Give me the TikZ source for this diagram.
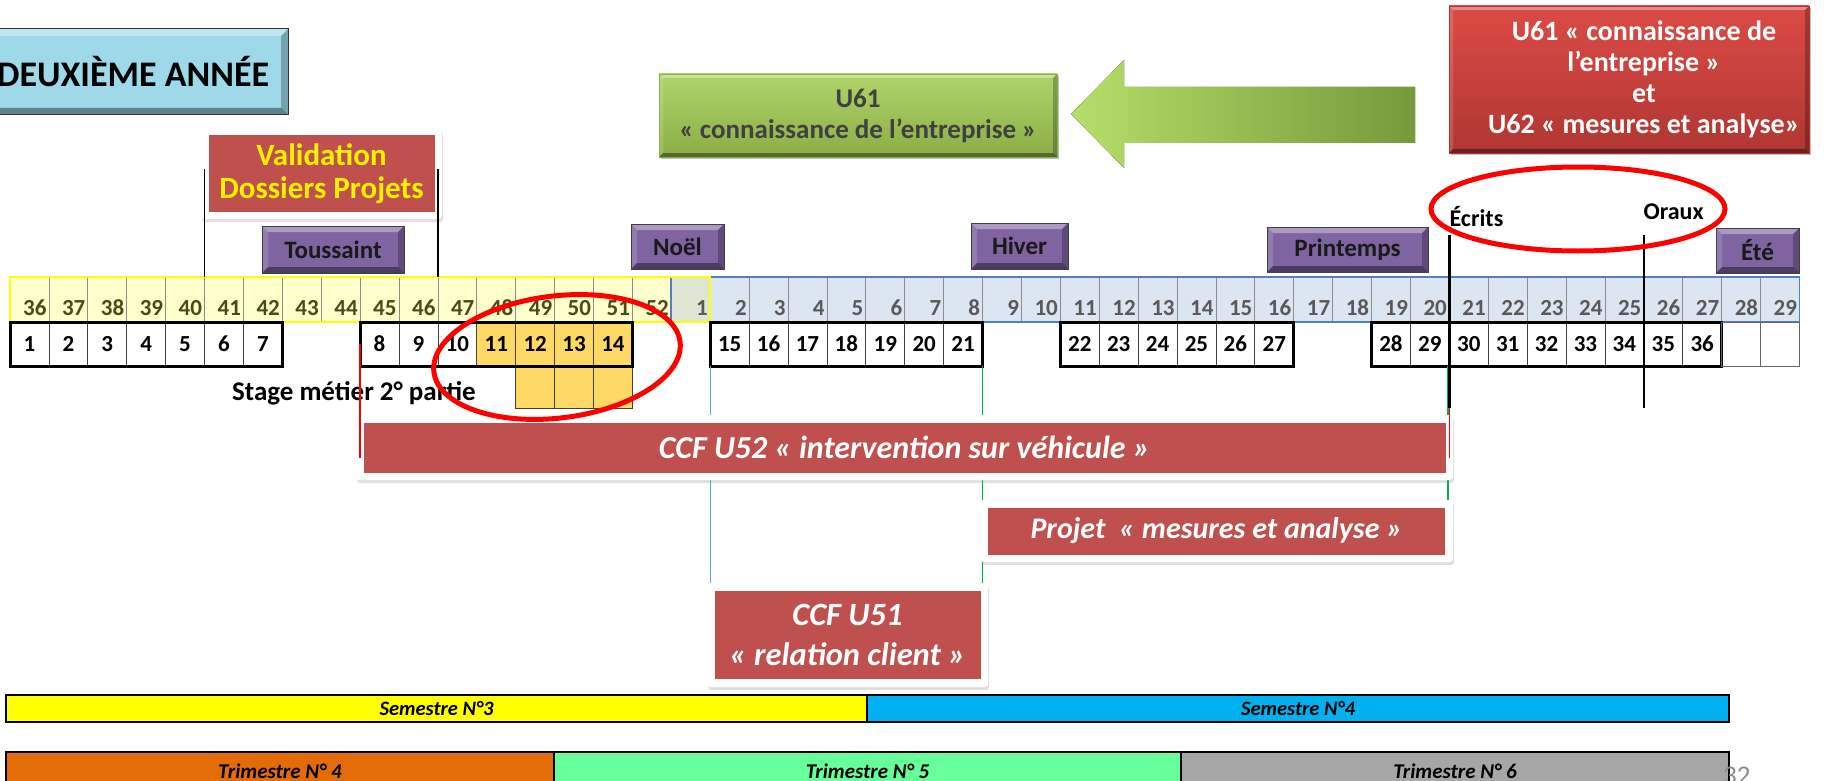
\documentclass[tikz,border=0pt]{standalone}
\usepackage{fontspec}
\setmainfont{Carlito}
\usetikzlibrary{positioning,shadows}

\definecolor{ccfred}{HTML}{C0504D}
\definecolor{vacviolet}{HTML}{8064A2}
\definecolor{titleblue}{HTML}{9DD9E9}
\definecolor{u61light}{HTML}{AFD46A}
\definecolor{u61dark}{HTML}{8AAE45}
\definecolor{u62light}{HTML}{DC4B45}
\definecolor{u62dark}{HTML}{B03632}
\definecolor{arrowlight}{HTML}{B5DF6A}
\definecolor{arrowdark}{HTML}{76993A}
\definecolor{weekyellow}{HTML}{FFFFCC}
\definecolor{weekblue}{HTML}{DCE6F2}
\definecolor{weekgrey}{HTML}{DFE5D3}
\definecolor{olivetxt}{HTML}{4A4A1C}
\definecolor{bordblue}{HTML}{4F81BD}
\definecolor{stageorange}{HTML}{FFD966}
\definecolor{semyellow}{HTML}{FFFF00}
\definecolor{semblue}{HTML}{00B0F0}
\definecolor{trimorange}{HTML}{E36C09}
\definecolor{trimgreen}{HTML}{66FF99}
\definecolor{trimgrey}{HTML}{A6A6A6}
\definecolor{lineblue}{HTML}{4BACC6}
\definecolor{linegreen}{HTML}{00B050}

\newcommand{\taille}[2]{\fontsize{#1}{#2}\selectfont}

\tikzset{
  bevel/.style={path picture={
      \coordinate (bA) at (path picture bounding box.north west);
      \coordinate (bB) at (path picture bounding box.north east);
      \coordinate (bC) at (path picture bounding box.south east);
      \coordinate (bD) at (path picture bounding box.south west);
      \fill[white,opacity=.35] (bA) -- (bB) -- ([shift={(-#1,-#1)}]bB) -- ([shift={(#1,-#1)}]bA) -- cycle;
      \fill[white,opacity=.15] (bA) -- (bD) -- ([shift={(#1,#1)}]bD) -- ([shift={(#1,-#1)}]bA) -- cycle;
      \fill[black,opacity=.25] (bB) -- (bC) -- ([shift={(-#1,#1)}]bC) -- ([shift={(-#1,-#1)}]bB) -- cycle;
      \fill[black,opacity=.4] (bD) -- (bC) -- ([shift={(-#1,#1)}]bC) -- ([shift={(#1,#1)}]bD) -- cycle;}},
  bevel/.default=6pt,
  vacances/.style={bevel, fill=vacviolet, draw=black!75, line width=.8pt, inner sep=0pt,
                   font=\taille{25}{28}\bfseries, text=black!90},
  whiteframe/.style={fill=white, rounded corners=3pt,
                     drop shadow={opacity=.25, shadow xshift=1pt, shadow yshift=-3pt}},
  ccfbox/.style={fill=ccfred, text=white, inner sep=0pt, align=center},
  weekcell/.style={draw=black!45, line width=.8pt, anchor=north west, outer sep=0pt,
                   minimum width=38.9pt, minimum height=45pt, inner xsep=2pt, inner ysep=5pt,
                   text width=34pt, align=right, text height=33pt, text depth=2pt,
                   font=\taille{23}{26}\bfseries},
  numcell/.style={draw=black!75, line width=.8pt, anchor=north west, outer sep=0pt,
                  minimum width=38.9pt, minimum height=44pt, inner sep=0pt,
                  font=\taille{23}{26}\bfseries},
  barcell/.style={draw=black, line width=1.2pt, anchor=north west, outer sep=0pt, inner sep=0pt,
                  font=\bfseries\itshape},
  examline/.style={line width=2.5pt},
  circled/.style={red, line width=5pt}
}

\begin{document}
\begin{tikzpicture}[x=1pt,y=-1pt]
\useasboundingbox (0,0) rectangle (1844,781);

% titre
\node[bevel=7pt, fill=titleblue, draw=black!80, line width=1pt, inner sep=0pt,
      minimum width=310pt, minimum height=86pt, font=\taille{36}{40}\bfseries]
      (titre) at (133,72) {DEUXIÈME ANNÉE};

% U61 / U62
\node[bevel=4pt, top color=u61light, bottom color=u61dark, draw=u61dark, drop shadow,
      minimum width=398pt, minimum height=83pt, inner sep=0pt, align=center,
      text=black!75, font=\taille{27}{31}\bfseries]
      (u61) at (858,115.5) {U61\\« connaissance de l’entreprise »};
\node[bevel=4pt, top color=u62light, bottom color=u62dark, draw=u62dark, drop shadow,
      minimum width=360pt, minimum height=147pt, inner sep=0pt] (u62) at (1629,79.5) {};
\node[align=center, text=white, inner sep=0pt, font=\taille{28}{31}\bfseries]
      (u62txt) at ([xshift=15pt]u62.center) {U61 « connaissance de\\l’entreprise »\\et\\U62 « mesures et analyse»};
\fill[left color=arrowlight, right color=arrowdark]
  (1071,114) -- (1124,60) -- (1124,87) -- (1415,87) -- (1415,143) -- (1124,143) -- (1124,168) -- cycle;

% validation
\node[whiteframe, minimum width=241pt, minimum height=91pt] (fval) at (321.5,173.5) {};
\node[ccfbox, text=yellow, minimum width=226pt, minimum height=76pt,
      font=\taille{31}{33}\bfseries] (val) at (fval) {Validation\\Dossiers Projets};

% vacances
\node[vacances, minimum width=142pt, minimum height=47pt] (toussaint) at (333,249.5) {Toussaint};
\node[vacances, minimum width=93pt, minimum height=45pt] (noel) at (677.5,246.5) {Noël};
\node[vacances, minimum width=97pt, minimum height=46pt] (hiver) at (1019.5,246) {Hiver};
\node[vacances, minimum width=161pt, minimum height=45pt] (printemps) at (1347.5,249.5) {Printemps};
\node[vacances, minimum width=83pt, minimum height=45pt] (ete) at (1757.5,250.5) {Été};

% semaines
\foreach \w in {36,...,52}{
  \pgfmathsetmacro{\xx}{10+38.9*(\w-36)}
  \node[weekcell, fill=weekyellow, text=olivetxt] (wk\w) at (\xx,277) {\w};
}
\foreach \w in {2,...,29}{
  \pgfmathsetmacro{\xx}{10+38.9*(\w+16)}
  \node[weekcell, fill=weekblue, text=black!65] (wk\w) at (\xx,277) {\w};
}
\node[weekcell, fill=weekgrey, text=black!65] (wk1) at (671.3,277) {1};
\draw[bordblue, line width=1.8pt] (wk1.north west) rectangle (wk29.south east);
\draw[semyellow, line width=2pt] (wk36.north west) rectangle (wk1.south east);

% stage
\fill[stageorange] (476.8,322) rectangle (632.4,366);
\foreach \i in {13,14,15}{
  \pgfmathsetmacro{\xx}{10+38.9*\i}
  \node[numcell, fill=stageorange, minimum height=42pt] (st\i) at (\xx,366) {};
}
\node[font=\taille{27}{30}\bfseries] (stage) at (354,393) {Stage métier 2° partie};

% semaines de cours
\foreach \a/\b/\o in {1/7/-1, 8/14/1, 15/21/3, 22/27/5, 28/36/7}{
  \foreach \n in {\a,...,\b}{
    \pgfmathsetmacro{\xx}{10+38.9*(\n+\o)}
    \node[numcell] (n\n) at (\xx,322) {\n};
  }
  \draw[line width=3pt] (n\a.north west) rectangle (n\b.south east);
}
\foreach \i in {44,45}{
  \pgfmathsetmacro{\xx}{10+38.9*\i}
  \node[numcell, draw=black!60] (e\i) at (\xx,322) {};
}

% reperes
\draw[lineblue, line width=1.2pt] (n15.south west) -- ++(0,259);
\draw[linegreen, line width=1.2pt] (n21.south east) -- ++(0,217);
\draw[linegreen, line width=1.5pt] ([xshift=-1.5pt]n30.south west) -- ++(0,134);

% CCF
\node[whiteframe, minimum width=1097pt, minimum height=65pt] (f52) at (904.5,447.5) {};
\node[ccfbox, minimum width=1082pt, minimum height=50pt, font=\taille{32}{36}\bfseries\itshape]
      (ccf52) at (f52) {CCF U52 « intervention sur véhicule »};
\node[whiteframe, minimum width=473pt, minimum height=62pt] (fproj) at (1216.5,531) {};
\node[ccfbox, minimum width=457pt, minimum height=47pt, font=\taille{30}{34}\bfseries\itshape]
      (proj) at (fproj) {Projet ~« mesures et analyse »};
\node[whiteframe, minimum width=281pt, minimum height=104pt] (f51) at (847.5,635) {};
\node[ccfbox, minimum width=266pt, minimum height=88pt, font=\taille{32.5}{40}\bfseries\itshape]
      (ccf51) at (f51) {CCF U51\\« relation client »};

\draw[red, line width=1.5pt] (n8.west) -- ++(0,114);
\draw[red, line width=1.5pt] (n30.south west) -- ++(0,92);

% validation et examens
\draw[line width=1.5pt] (wk41.north west) -- ++(0,-108);
\draw[line width=1.5pt] (wk47.north west) -- ++(0,-108);
\node[anchor=west, font=\taille{24}{28}\bfseries] (ecrits) at (1446,217) {Écrits};
\node[anchor=west, font=\taille{24}{28}\bfseries] (oraux) at (1640,212) {Oraux};
\draw[examline] (wk21.north west) ++(0,-42) -- ++(0,173);
\draw[examline] (wk26.north west) ++(0,-42) -- ++(0,173);
\draw[circled] (1578,209) ellipse [x radius=147, y radius=42];
\draw[circled, rotate around={7:(557,357)}] (557,357) ellipse [x radius=124, y radius=61];

% semestres et trimestres
\node[barcell, fill=semyellow, minimum width=861pt, minimum height=27pt, font=\taille{20.5}{22}\bfseries\itshape]
      (s3) at (6,695) {Semestre N°3};
\node[barcell, fill=semblue, minimum width=862pt, minimum height=27pt, font=\taille{20.5}{22}\bfseries\itshape,
      right=0pt of s3] (s4) {Semestre N°4};
\node[barcell, fill=trimorange, minimum width=548pt, minimum height=38pt, font=\taille{21}{23}\bfseries\itshape]
      (t4) at (6,752) {Trimestre N° 4};
\node[barcell, fill=trimgreen, minimum width=627pt, minimum height=38pt, font=\taille{21}{23}\bfseries\itshape,
      right=0pt of t4] (t5) {Trimestre N° 5};
\node[barcell, fill=trimgrey, minimum width=548pt, minimum height=38pt, font=\taille{21}{23}\bfseries\itshape,
      right=0pt of t5] (t6) {Trimestre N° 6};
\node[anchor=north west, inner sep=0pt, text=black!45, font=\taille{27}{30}] (page) at (1723,767) {32};

\end{tikzpicture}
\end{document}
